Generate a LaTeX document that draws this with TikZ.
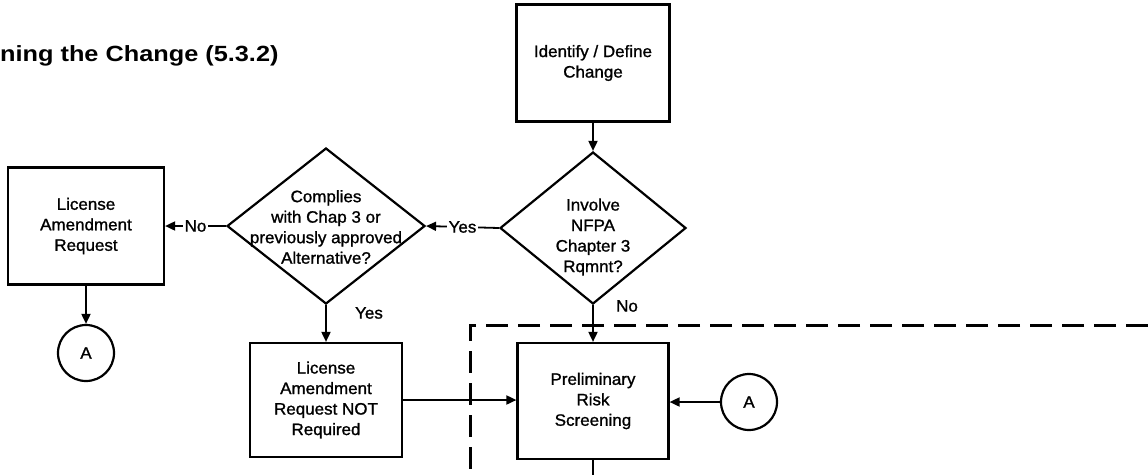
\documentclass[tikz,border=0pt]{standalone}
\usepackage{fontspec}
\setmainfont{Liberation Sans}[FakeStretch=1.03,FakeBold=1.2]
\newfontfamily\titlefont{Liberation Sans}[FakeStretch=1.15]
\usetikzlibrary{shapes.geometric,arrows.meta}
\begin{document}
\begin{tikzpicture}[x=1pt,y=-1pt,
  txt/.style={font=\fontsize{16.5}{20.5}\selectfont},
  proc/.style={draw, line width=2.2pt, inner sep=0pt, align=center, txt},
  dec/.style={draw, diamond, line width=2.2pt, inner sep=0pt},
  conn/.style={draw, circle, line width=2.2pt, minimum size=56pt, inner sep=0pt, txt},
  arr/.style={line width=1.8pt, -{Triangle[length=10pt,width=9pt]}},
  plain/.style={line width=1.8pt},
  lbl/.style={txt, inner sep=2pt},
  dashbox/.style={line width=3pt, dash pattern=on 22pt off 10pt}
]
\useasboundingbox (0,0) rectangle (1148,475);

% title
\node[anchor=west, inner sep=0pt, font=\titlefont\bfseries\fontsize{22}{26}\selectfont] (title) at (0,56) {ning the Change (5.3.2)};

% nodes
\node[proc, minimum width=153pt, minimum height=117pt] (ident) at (593,63) {Identify / Define\\Change};
\node[dec, minimum width=186pt, minimum height=152pt] (inv) at (593,228) {};
\node[txt, align=center, inner sep=0pt] (invtxt) at (593,237) {Involve\\NFPA\\Chapter 3\\Rqmnt?};
\node[dec, minimum width=198pt, minimum height=156pt] (comp) at (326,226) {};
\node[txt, align=center, inner sep=0pt] (comptxt) at (326,227) {Complies\\with Chap 3 or\\previously approved\\Alternative?};
\node[proc, minimum width=156pt, minimum height=117pt] (lar) at (86,226) {License\\Amendment\\Request};
\node[conn] (a1) at (86,353) {A};
\node[proc, minimum width=152pt, minimum height=114pt] (larnot) at (326,400) {License\\Amendment\\Request NOT\\Required};
\node[proc, minimum width=151pt, minimum height=116pt] (prs) at (593,401) {Preliminary\\Risk\\Screening};
\node[conn] (a2) at (749,402) {A};

% connectors
\draw[arr] (ident.south) -- (inv.north);
\draw[arr] (inv.west) -- node[lbl, fill=white] {Yes} (comp.east);
\draw[arr] (comp.west) -- node[lbl, fill=white] {No} (lar.east);
\draw[arr] (lar.south) -- (a1.north);
\draw[arr] (comp.south) -- (larnot.north);
\node[lbl] (yes2) at (369,313) {Yes};
\draw[arr] (inv.south) -- (prs.north);
\node[lbl] (no2) at (627,306) {No};
\draw[arr] (larnot.east) -- (prs.west |- larnot.east);
\draw[arr] (a2.west) -- (prs.east |- a2.west);
\coordinate (prsout) at (593,475);
\draw[plain] (prs.south) -- (prsout);

% dashed boundary
\coordinate (dright) at (1148,325);
\coordinate (dcorner) at (470,325);
\coordinate (dbottom) at (470,475);
\draw[dashbox] (dright) -- (dcorner) -- (dbottom);
\end{tikzpicture}
\end{document}
